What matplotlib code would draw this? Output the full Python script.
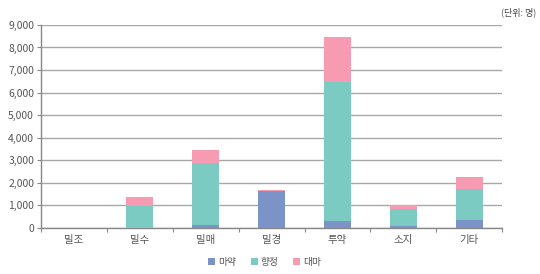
import matplotlib
matplotlib.use("Agg")
import matplotlib.pyplot as plt
import numpy as np

plt.rcParams['font.family'] = ['Noto Sans CJK KR', 'DejaVu Sans']

categories = ['밀조', '밀수', '밀매', '밀경', '투약', '소지', '기타']
series_names = ['마약', '향정', '대마']
narcotics = [0, 20, 150, 1620, 310, 70, 350]
psychotropics = [0, 950, 2750, 0, 6160, 770, 1390]
cannabis = [0, 410, 560, 70, 1980, 170, 530]
colors = ['#7b93c6', '#7ccbc2', '#f79bb2']
yticks = [0, 1000, 2000, 3000, 4000, 5000, 6000, 7000, 8000, 9000]

fig = plt.figure(figsize=(5.4, 2.74), dpi=100)
ax = fig.add_axes([0.076, 0.168, 0.854, 0.741])

x = np.arange(len(categories))
w = 0.41
bottom = np.zeros(len(categories))
for vals, name, c in zip([narcotics, psychotropics, cannabis], series_names, colors):
    ax.bar(x, vals, width=w, bottom=bottom, color=c, label=name, zorder=3)
    bottom += np.array(vals)

ax.set_xlim(-0.5, len(categories) - 0.5)
ax.set_ylim(0, 9000)
ax.set_yticks(yticks)
ax.set_yticklabels([f'{v:,}' for v in yticks])
ax.grid(axis='y', color='#a8a8a8', linewidth=1, zorder=0)
ax.set_xticks(np.arange(-0.5, len(categories), 1.0))
ax.set_xticklabels([])
ax.set_xticks(x, minor=True)
ax.set_xticklabels(categories, minor=True)
ax.tick_params(axis='x', which='major', length=3, color='#888888', direction='out')
ax.tick_params(axis='x', which='minor', length=0, pad=5, labelsize=7.5, labelcolor='#555555')
ax.tick_params(axis='y', length=3, color='#888888', labelsize=7.5, labelcolor='#555555', pad=2)
for s in ['top', 'right']:
    ax.spines[s].set_visible(False)
for s in ['left', 'bottom']:
    ax.spines[s].set_color('#888888')
    ax.spines[s].set_linewidth(1)

fig.text(0.993, 0.955, '(단위: 명)', ha='right', va='center', fontsize=6.5, color='#444444')

leg = fig.legend(loc='center', bbox_to_anchor=(0.49, 0.045), ncol=3, frameon=False,
                 fontsize=7, handlelength=0.7, handleheight=0.7, handletextpad=0.3,
                 columnspacing=1.5, labelcolor='#555555')

fig.savefig('out.png', dpi=100)
